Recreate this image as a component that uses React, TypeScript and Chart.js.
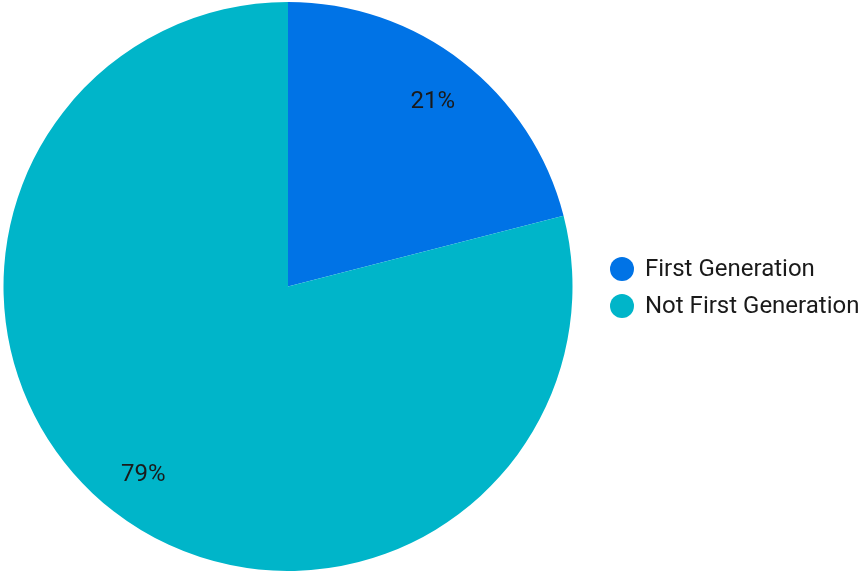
import React, { useEffect, useRef } from "react";
import { Chart, registerables } from "chart.js";

Chart.register(...registerables);

const categories = ["First Generation", "Not First Generation"];
const values = [21, 79];
const colors = ["#0073E6", "#00B5C9"];

const FONT = "24px Roboto";
const TEXT_COLOR = "#1a1a1a";

const pctLabels = {
  id: "pctLabels",
  afterDatasetsDraw(chart: any) {
    const ctx = chart.ctx;
    const meta = chart.getDatasetMeta(0);
    const total = values.reduce((a, b) => a + b, 0);
    ctx.save();
    ctx.font = FONT;
    ctx.fillStyle = TEXT_COLOR;
    ctx.textAlign = "center";
    ctx.textBaseline = "middle";
    meta.data.forEach((arc: any, i: number) => {
      const { x, y, startAngle, endAngle, outerRadius } = arc.getProps(
        ["x", "y", "startAngle", "endAngle", "outerRadius"],
        true
      );
      const mid = (startAngle + endAngle) / 2;
      const r = outerRadius * 0.83;
      const pct = Math.round((values[i] / total) * 100) + "%";
      ctx.fillText(pct, x + Math.cos(mid) * r, y + Math.sin(mid) * r + 2);
    });
    ctx.restore();
  },
};

const sideLegend = {
  id: "sideLegend",
  afterDraw(chart: any) {
    const ctx = chart.ctx;
    const area = chart.chartArea;
    const cy = (area.top + area.bottom) / 2 + 1;
    const rowGap = 37;
    const x0 = area.right + 46;
    ctx.save();
    ctx.font = FONT;
    ctx.textAlign = "left";
    ctx.textBaseline = "middle";
    categories.forEach((label, i) => {
      const y = cy + (i - (categories.length - 1) / 2) * rowGap;
      ctx.fillStyle = colors[i];
      ctx.beginPath();
      ctx.arc(x0, y, 12, 0, Math.PI * 2);
      ctx.fill();
      ctx.fillStyle = TEXT_COLOR;
      ctx.fillText(label, x0 + 23, y + 1);
    });
    ctx.restore();
  },
};

export default function App() {
  const ref = useRef<HTMLCanvasElement>(null);
  useEffect(() => {
    document.body.style.margin = "0";
    const chart = new Chart(ref.current!, {
      type: "pie",
      data: {
        labels: categories,
        datasets: [
          {
            data: values,
            backgroundColor: colors,
            borderWidth: 0,
          },
        ],
      },
      options: {
        animation: false,
        responsive: false,
        maintainAspectRatio: false,
        layout: { padding: { top: 2, bottom: 0, left: 0, right: 289 } },
        plugins: {
          tooltip: { enabled: false },
          legend: { display: false },
        },
      },
      plugins: [pctLabels, sideLegend],
    });
    return () => chart.destroy();
  }, []);
  return (
    <div style={{ position: "absolute", left: 0, top: 0, width: 865, height: 571 }}>
      <canvas ref={ref} width={865} height={571} />
    </div>
  );
}
